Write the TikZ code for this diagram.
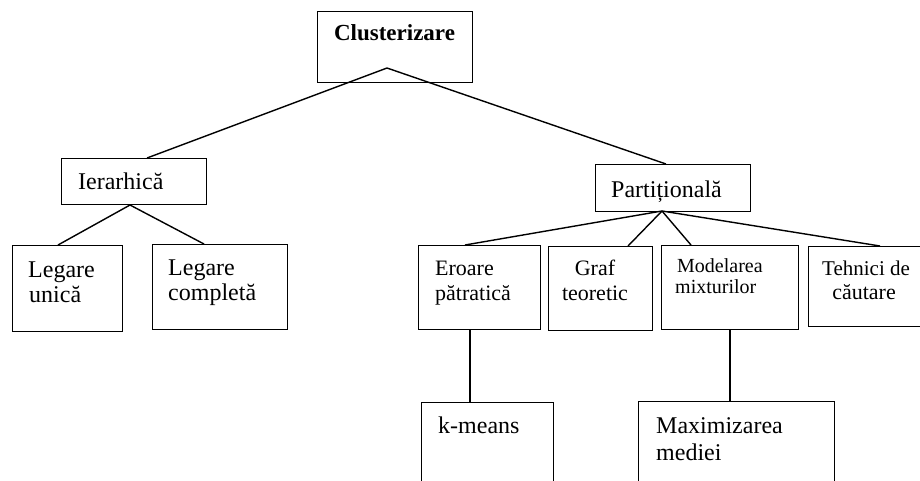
\documentclass[tikz,border=0pt]{standalone}
\usepackage{fontspec}
\setmainfont{Liberation Serif}
\begin{document}
\begin{tikzpicture}[x=1pt,y=-1pt,
  box/.style={draw,line width=1.4pt,inner sep=0pt,anchor=north west},
  lnk/.style={line width=1.4pt},
  txt/.style={inner sep=0pt,anchor=base west},
  ctxt/.style={inner sep=0pt,anchor=base},
  fa/.style={font=\fontsize{24}{27}\selectfont},
  fb/.style={font=\fontsize{22}{25}\selectfont},
  fc/.style={font=\fontsize{20}{22}\selectfont}]
\useasboundingbox (0,0) rectangle (920,480);
\clip (0,0) rectangle (920,480);
% boxes
\node[box,minimum width=155pt,minimum height=71pt] (clu) at (317,11) {};
\node[box,minimum width=145pt,minimum height=46pt] (ier) at (61,158) {};
\node[box,minimum width=110pt,minimum height=86pt] (leg1) at (12,245) {};
\node[box,minimum width=135pt,minimum height=85pt] (leg2) at (152,244) {};
\node[box,minimum width=155pt,minimum height=47pt] (par) at (595,164) {};
\node[box,minimum width=122pt,minimum height=84pt] (ero) at (418,245) {};
\node[box,minimum width=104pt,minimum height=84pt] (graf) at (548,246) {};
\node[box,minimum width=137pt,minimum height=84pt] (mod) at (661,245) {};
\node[box,minimum width=130pt,minimum height=80pt] (teh) at (808,246) {};
\node[box,minimum width=132pt,minimum height=95pt] (km) at (421,402) {};
\node[box,minimum width=196pt,minimum height=95pt] (max) at (638,401) {};
% texts
\node[ctxt,font=\fontsize{23}{26}\selectfont\bfseries] (tclu) at (394.5,40) {Clusterizare};
\node[txt,fa] (tier) at (78,189) {Ierarhică};
\node[txt,fa] (tleg1a) at (28,277) {Legare};
\node[txt,fa] (tleg1b) at (29,302) {unică};
\node[txt,fa] (tleg2a) at (168,275) {Legare};
\node[txt,fa] (tleg2b) at (168,300) {completă};
\node[txt,fa] (tpar) at (611,197) {Partițională};
\node[txt,fb] (teroa) at (435,275) {Eroare};
\node[txt,fb] (terob) at (435,300) {pătratică};
\node[ctxt,fb] (tgrafa) at (595,275) {Graf};
\node[ctxt,fb] (tgrafb) at (595,300) {teoretic};
\node[txt,fc] (tmoda) at (677,272) {Modelarea};
\node[txt,fc] (tmodb) at (675,293) {mixturilor};
\node[ctxt,font=\fontsize{21}{24}\selectfont] (ttesa) at (866,275) {Tehnici de};
\node[ctxt,fb] (ttesb) at (864,299) {căutare};
\node[txt,fa] (tkm) at (438,433) {k-means};
\node[txt,fa] (tmaxa) at (656,433) {Maximizarea};
\node[txt,fa] (tmaxb) at (656,460) {mediei};
% junction points
\coordinate (jclu) at (387,68);
\coordinate (jier) at (130,205);
\coordinate (jpar) at (662,211);
% connectors
\draw[lnk] (jclu) -- (147,0 |- ier.north);
\draw[lnk] (jclu) -- (666,0 |- par.north);
\draw[lnk] (jier) -- (58,0 |- leg1.north);
\draw[lnk] (jier) -- (204,0 |- leg2.north);
\draw[lnk] (jpar) -- (465,0 |- ero.north);
\draw[lnk] (jpar) -- (628,0 |- graf.north);
\draw[lnk] (jpar) -- (691,0 |- mod.north);
\draw[lnk] (jpar) -- (880,0 |- teh.north);
\draw[lnk] (470,0 |- ero.south) -- (470,0 |- km.north);
\draw[lnk] (730,0 |- mod.south) -- (730,0 |- max.north);
\end{tikzpicture}
\end{document}
